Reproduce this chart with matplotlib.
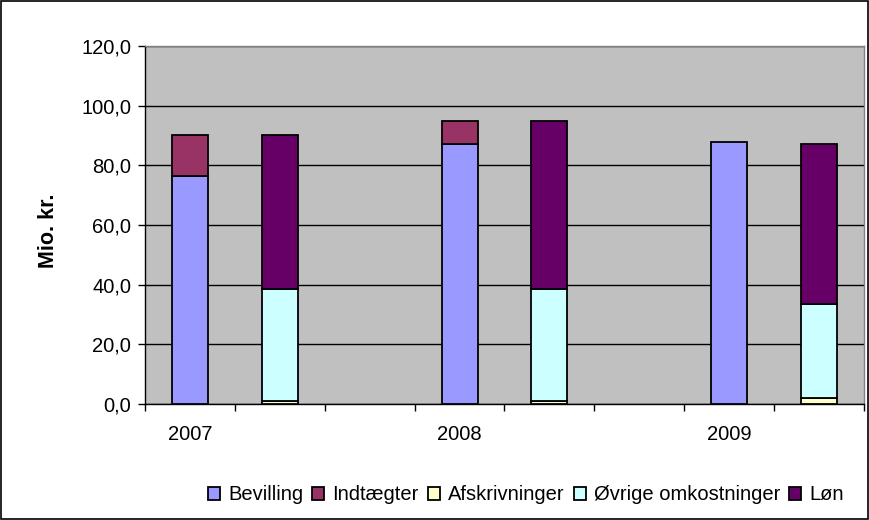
import matplotlib
matplotlib.use("Agg")
import matplotlib.pyplot as plt
from matplotlib.patches import Rectangle
import numpy as np

plt.rcParams['font.family'] = ['Liberation Sans', 'DejaVu Sans']

categories = ["2007", "", "", "2008", "", "", "2009", ""]
# income stack (at category index 0, 3, 6)
bevilling = [76.4, 0, 0, 87.0, 0, 0, 87.8, 0]
indtaegter = [13.8, 0, 0, 8.0, 0, 0, 0.0, 0]
# expense stack (at category index 1, 4, 7)
afskrivninger = [0, 1.1, 0, 0, 1.1, 0, 0, 2.0]
ovrige = [0, 37.4, 0, 0, 37.4, 0, 0, 31.5]
lon = [0, 51.7, 0, 0, 56.5, 0, 0, 53.7]

series = [
    ("Bevilling", bevilling, "#9999FF"),
    ("Indtægter", indtaegter, "#993366"),
    ("Afskrivninger", afskrivninger, "#FFFFCC"),
    ("Øvrige omkostninger", ovrige, "#CCFFFF"),
    ("Løn", lon, "#660066"),
]

FS = 14.5

fig = plt.figure(figsize=(8.7, 5.2), dpi=100)
fig.patch.set_facecolor("white")
fig.add_artist(Rectangle((0.001, 0.002), 0.997, 0.996, transform=fig.transFigure,
                         fill=False, edgecolor="black", linewidth=1.2))

ax = fig.add_axes([145/870, 1 - 404/520, (864-145)/870, (404-46)/520])
ax.set_facecolor("#C0C0C0")

x = np.arange(len(categories))
bottom = np.zeros(len(categories))
handles = []
for name, vals, col in series:
    vals = np.array(vals, dtype=float)
    mask = vals > 0
    b = ax.bar(x[mask], vals[mask], width=0.4, bottom=bottom[mask], color=col,
               edgecolor="black", linewidth=1.3, zorder=3, label=name)
    bottom = bottom + vals
    handles.append(b)

ax.set_xlim(-0.5, len(categories) - 0.5)
ax.set_ylim(0, 120)
ax.set_yticks(np.arange(0, 121, 20))
ax.set_yticklabels([f"{v:.1f}".replace(".", ",") for v in np.arange(0, 121, 20)], fontsize=FS)
ax.yaxis.grid(True, color="black", linewidth=1.0, zorder=1)
ax.set_axisbelow(True)

ax.set_xticks(np.arange(-0.5, len(categories), 1.0))
ax.set_xticklabels([])
ax.set_xticks(x, minor=True)
ax.set_xticklabels(categories, minor=True, fontsize=FS)
ax.tick_params(axis="x", which="minor", length=0, pad=15)
ax.tick_params(axis="x", which="major", length=5, width=1, direction="out")
ax.tick_params(axis="y", length=5, width=1, direction="out", pad=5)

for s in ["top", "right"]:
    ax.spines[s].set_color("#808080")
    ax.spines[s].set_linewidth(1.0)
for s in ["left", "bottom"]:
    ax.spines[s].set_color("black")
    ax.spines[s].set_linewidth(1.0)

ax.set_ylabel("Mio. kr.", fontsize=15.5, fontweight="bold")
ax.yaxis.set_label_coords((59 - 145) / 719, 0.485)

fig.legend(handles=handles, loc="center", bbox_to_anchor=(526/870, 1 - 495/520),
           ncol=5, frameon=False, fontsize=FS, handlelength=0.6, handleheight=0.6,
           handletextpad=0.4, columnspacing=0.45, borderpad=0)

fig.savefig("out.png", dpi=100)
